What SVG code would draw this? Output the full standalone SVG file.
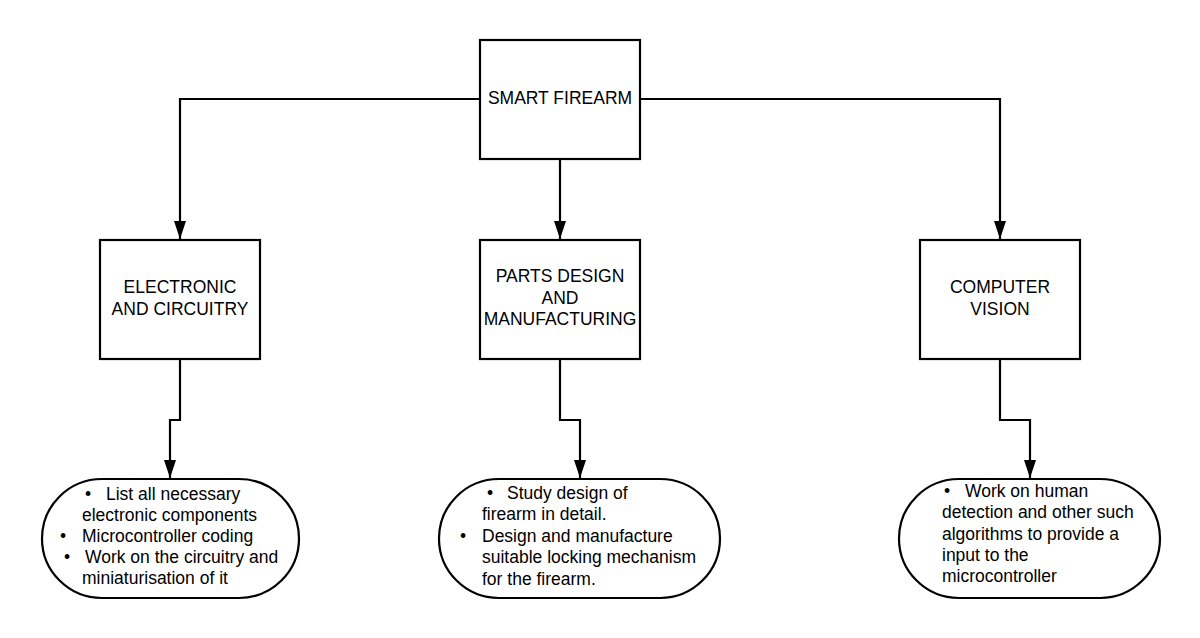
<svg xmlns="http://www.w3.org/2000/svg" width="1200" height="638" viewBox="0 0 1200 638">
<style>
.box{fill:#fff;stroke:#000;stroke-width:2.2}
.c{fill:none;stroke:#000;stroke-width:2.2}
text{font-family:"Liberation Sans",Arial,sans-serif;font-size:17.5px;fill:#000}
.m{text-anchor:middle}
</style>
<defs>
<marker id="ah" markerUnits="userSpaceOnUse" markerWidth="20" markerHeight="14" refX="18" refY="6" orient="auto">
<path d="M0,0 L18,6 L0,12 z" fill="#000"/>
</marker>
</defs>
<rect width="1200" height="638" fill="#fff"/>
<g id="connectors">
<path class="c" d="M480,99 H180 V239" marker-end="url(#ah)"/>
<path class="c" d="M640,99 H1000 V239" marker-end="url(#ah)"/>
<path class="c" d="M560,159 V239" marker-end="url(#ah)"/>
<path class="c" d="M180,359 V420 H170 V478" marker-end="url(#ah)"/>
<path class="c" d="M560,359 V420 H580 V478" marker-end="url(#ah)"/>
<path class="c" d="M1000,359 V420 H1030 V478" marker-end="url(#ah)"/>
</g>
<g id="smart-firearm">
<rect class="box" x="480" y="40" width="160" height="119"/>
<text class="m" x="560" y="104">SMART FIREARM</text>
</g>
<g id="electronic">
<rect class="box" x="100" y="240" width="160" height="119"/>
<text class="m" x="180" y="293">ELECTRONIC</text>
<text class="m" x="180" y="315">AND CIRCUITRY</text>
</g>
<g id="parts">
<rect class="box" x="480" y="240" width="160" height="119"/>
<text class="m" x="560" y="282">PARTS DESIGN</text>
<text class="m" x="560" y="304">AND</text>
<text class="m" x="560" y="325">MANUFACTURING</text>
</g>
<g id="vision">
<rect class="box" x="920" y="240" width="160" height="119"/>
<text class="m" x="1000" y="293">COMPUTER</text>
<text class="m" x="1000" y="315">VISION</text>
</g>
<g id="electronic-tasks">
<rect class="box" x="42" y="479" width="257" height="119" rx="60" ry="59.5"/>
<text x="85" y="500">•</text><text x="106" y="500">List all necessary</text>
<text x="82" y="521">electronic components</text>
<text x="60" y="542">•</text><text x="82" y="542">Microcontroller coding</text>
<text x="64" y="563">•</text><text x="85" y="563">Work on the circuitry and</text>
<text x="82" y="584">miniaturisation of it</text>
</g>
<g id="parts-tasks">
<rect class="box" x="439" y="479" width="281" height="119" rx="60" ry="59.5"/>
<text x="487" y="499">•</text><text x="507" y="499">Study design of</text>
<text x="482" y="520">firearm in detail.</text>
<text x="460" y="542">•</text><text x="482" y="542">Design and manufacture</text>
<text x="482" y="563">suitable locking mechanism</text>
<text x="482" y="585">for the firearm.</text>
</g>
<g id="vision-tasks">
<rect class="box" x="899" y="479" width="261" height="119" rx="60" ry="59.5"/>
<text x="944" y="497">•</text><text x="965" y="497">Work on human</text>
<text x="942" y="518">detection and other such</text>
<text x="942" y="540">algorithms to provide a</text>
<text x="942" y="561">input to the</text>
<text x="942" y="582">microcontroller</text>
</g>
</svg>
